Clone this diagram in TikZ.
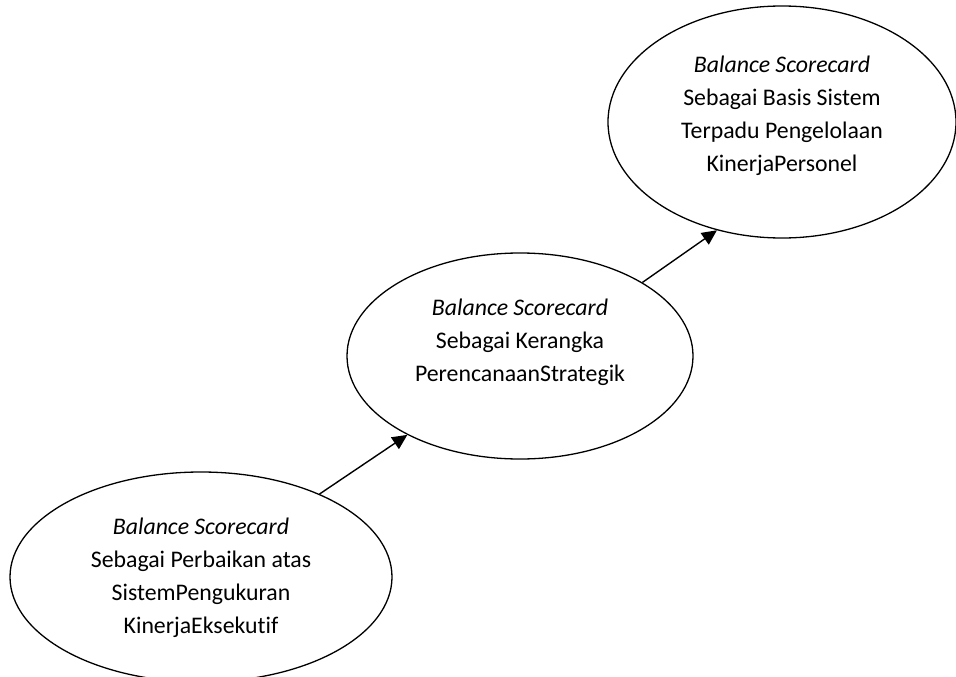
\documentclass[tikz,border=0pt]{standalone}
\usepackage{fontspec}
\setmainfont{Carlito}[Ligatures=NoCommon]
\usetikzlibrary{arrows.meta,shapes.geometric}
\begin{document}
\begin{tikzpicture}[x=1pt,y=-1pt,
  oval/.style={draw,ellipse,line width=1.3pt,inner sep=0pt},
  label/.style={align=center,font=\fontsize{23.8}{33}\selectfont},
  conn/.style={line width=1.4pt,-{Triangle[length=15pt,width=14pt]}}]
\useasboundingbox (0,0) rectangle (956,677);
\node[oval,minimum width=382pt,minimum height=210pt] (e1) at (201,577) {};
\node[oval,minimum width=346pt,minimum height=206pt] (e2) at (520,356) {};
\node[oval,minimum width=348pt,minimum height=232pt] (e3) at (782,122) {};
\node[label] (t1) at (201,578) {\textit{Balance Scorecard}\\Sebagai Perbaikan atas\\SistemPengukuran\\KinerjaEksekutif};
\node[label] (t2) at (520,342) {\textit{Balance Scorecard}\\Sebagai Kerangka\\PerencanaanStrategik};
\node[label] (t3) at (782,116) {\textit{Balance Scorecard}\\Sebagai Basis Sistem\\Terpadu Pengelolaan\\KinerjaPersonel};
\draw[conn] (e1.35) -- (e2.215);
\draw[conn] (e2.31.5) -- (e3.239);
\end{tikzpicture}
\end{document}
